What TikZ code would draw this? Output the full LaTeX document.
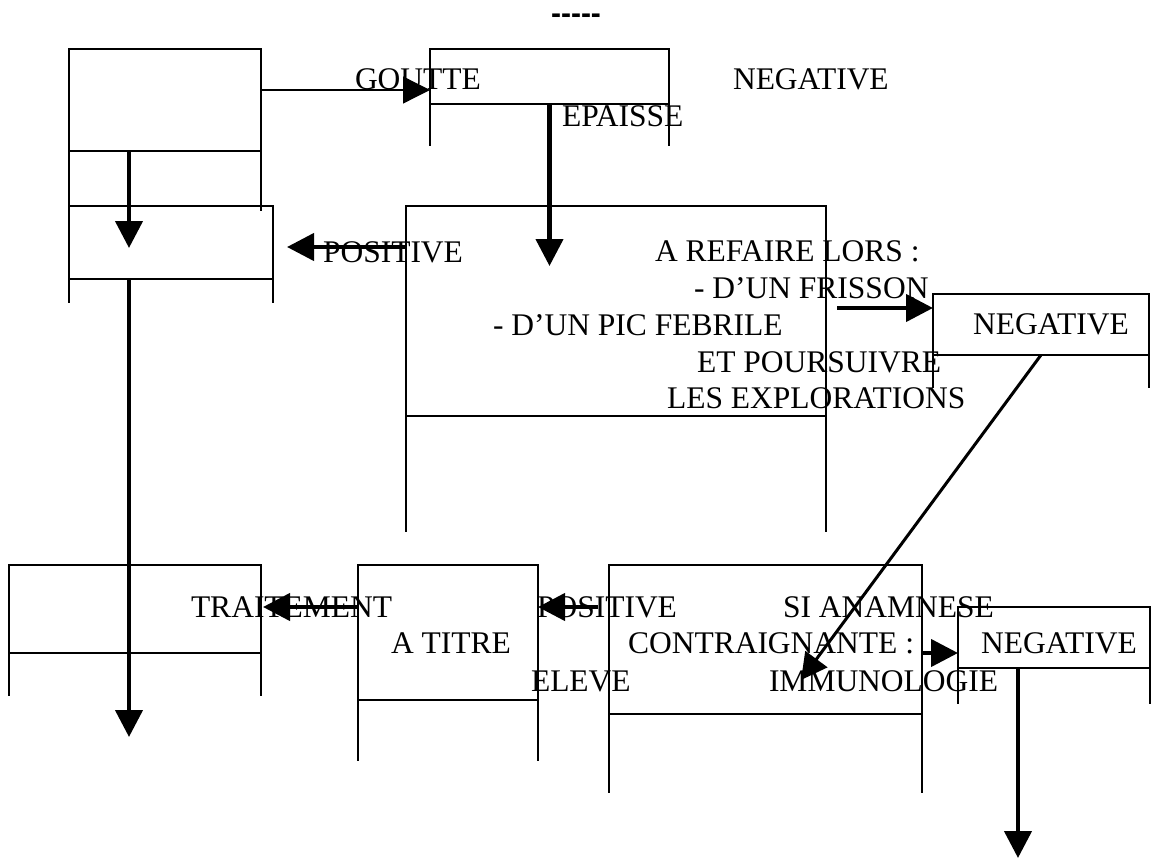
\documentclass[tikz,border=0pt]{standalone}
\usepackage{fontspec}
\setmainfont{Liberation Serif}
\newfontfamily\dashfont{Liberation Sans}
\usetikzlibrary{arrows.meta}
\begin{document}
\begin{tikzpicture}[x=1pt,y=-1pt,
  boxline/.style={line width=1.3pt},
  frame/.style={boxline, draw, rectangle, inner sep=0pt, outer sep=0pt, anchor=north west},
  txt/.style={anchor=base west, inner sep=0pt, outer sep=0pt, font=\fontsize{31.5}{36}\selectfont},
  thinarrow/.style={line width=1.3pt, -{Triangle[length=27pt,width=27pt]}},
  fatarrow/.style={line width=4.3pt, -{Triangle[length=27pt,width=27pt]}},
  midarrow/.style={line width=3pt, -{Triangle[length=26pt,width=27pt]}}]
\useasboundingbox (0,0) rectangle (1154,859);
% boxes
\node[frame, minimum width=192pt, minimum height=102pt] (A) at (69,49) {};
\node[frame, minimum width=204pt, minimum height=73pt] (B) at (69,206) {};
\node[frame, minimum width=239pt, minimum height=55pt] (G) at (430,49) {};
\node[frame, minimum width=420pt, minimum height=210pt] (C) at (406,206) {};
\node[frame, minimum width=216pt, minimum height=61pt] (N1) at (933,294) {};
\node[frame, minimum width=252pt, minimum height=88pt] (L) at (9,565) {};
\node[frame, minimum width=180pt, minimum height=135pt] (T) at (358,565) {};
\node[frame, minimum width=313pt, minimum height=149pt] (D) at (609,565) {};
\node[frame, minimum width=192pt, minimum height=61pt] (N2) at (958,607) {};
\foreach \n/\e in {A/60,B/24,G/42,C/116,N1/33,L/43,T/61,D/79,N2/36}
  \draw[boxline] (\n.south west) -- ++(0,\e) (\n.south east) -- ++(0,\e);
% texts
\node[anchor=base, inner sep=0pt, font=\dashfont\bfseries\fontsize{30}{34}\selectfont] (dash) at (576,23.5) {-----};
\node[txt] (tgoutte) at (355,89) {GOUTTE};
\node[txt] (tepaisse) at (562,126) {EPAISSE};
\node[txt] (tneg1) at (733,89) {NEGATIVE};
\node[txt] (tpos1) at (323,262) {POSITIVE};
\node[txt] (tl1) at (655,261) {A REFAIRE LORS :};
\node[txt] (tl2) at (694,298) {- D’UN FRISSON};
\node[txt] (tl3) at (493,335) {- D’UN PIC FEBRILE};
\node[txt] (tl4) at (697,372) {ET POURSUIVRE};
\node[txt] (tl5) at (667,408) {LES EXPLORATIONS};
\node[txt] (tneg2) at (973,334) {NEGATIVE};
\node[txt] (ttrait) at (191,617) {TRAITEMENT};
\node[txt] (tpos2) at (537,617) {POSITIVE};
\node[txt] (tsi) at (783,617) {SI ANAMNESE};
\node[txt] (ttitre) at (391,653) {A TITRE};
\node[txt] (tcontr) at (628,653) {CONTRAIGNANTE :};
\node[txt] (tneg3) at (981,653) {NEGATIVE};
\node[txt] (televe) at (531,691) {ELEVE};
\node[txt] (timmu) at (769,691) {IMMUNOLOGIE};
% connectors
\draw[thinarrow] ([yshift=10pt]A.east) -- ([yshift=10pt]A.east -| G.west);
\draw[fatarrow] ([xshift=-36pt]A.south) -- ++(0,97);
\draw[fatarrow] (G.south) -- ++(0,162);
\draw[fatarrow] ([yshift=-41pt]C.north west) -- ++(-119,0);
\draw[fatarrow] ([xshift=-96pt,yshift=-14pt]N1.north west) -- ([yshift=-14pt]N1.north west);
\draw[midarrow] (N1.south) -- (801,680);
\draw[fatarrow] ([xshift=60pt,yshift=-42pt]T.north east) -- ([yshift=-42pt]T.north east);
\draw[fatarrow] ([yshift=-42pt]T.north west) -- ([xshift=2pt,yshift=-42pt]L.north east);
\draw[fatarrow] ([yshift=-88pt]D.north east) -- ([yshift=-88pt]D.north east -| N2.west);
\draw[fatarrow] ([xshift=-42pt]B.south) -- ++(0,458);
\draw[fatarrow] ([xshift=-36pt]N2.south) -- ++(0,190);
\end{tikzpicture}
\end{document}
